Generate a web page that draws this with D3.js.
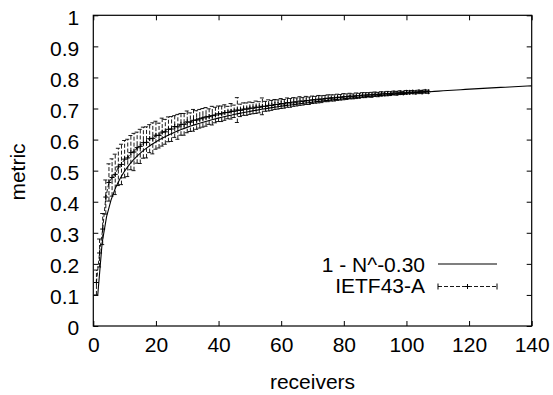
<!DOCTYPE html>
<html>
<head>
<meta charset="utf-8">
<script src="https://cdn.jsdelivr.net/npm/d3@7"></script>
<style>
  body { margin: 0; background: #fff; }
  text { font-family: "Liberation Sans", Arial, Helvetica, sans-serif; }
</style>
</head>
<body>
<svg id="chart" width="553" height="395"></svg>
<script>
// IETF43-A measurements: receivers, metric and error (half width)
var receivers = [1,2,3,4,5,6,7,8,9,10,11,12,13,14,15,16,17,18,19,20,
  21,22,23,24,25,26,27,28,29,30,31,32,33,34,35,36,37,38,39,40,
  41,42,43,44,45,46,47,48,49,50,51,52,53,54,55,56,57,58,59,60,
  61,62,63,64,65,66,67,68,69,70,71,72,73,74,75,76,77,78,79,80,
  81,82,83,84,85,86,87,88,89,90,91,92,93,94,95,96,97,98,99,100,
  101,102,103,104,105,106,107];
var metric = [.140,.235,.312,.415,.462,.478,.488,.512,.520,.537,.541,.558,.560,.574,.578,.590,.591,.603,.604,.614,
  .613,.624,.625,.633,.634,.642,.641,.649,.649,.657,.656,.662,.663,.667,.670,.673,.674,.677,.679,.683,
  .683,.687,.687,.691,.691,.695,.694,.698,.698,.701,.701,.704,.704,.707,.707,.710,.710,.713,.713,.716,
  .715,.719,.718,.721,.721,.724,.723,.726,.725,.728,.728,.730,.730,.732,.733,.734,.734,.736,.736,.738,
  .738,.740,.739,.741,.741,.743,.743,.744,.744,.746,.745,.747,.747,.748,.748,.750,.749,.751,.750,.752,
  .752,.753,.752,.754,.753,.755,.754];
var spread = [.040,.045,.050,.055,.060,.060,.065,.060,.065,.060,.060,.055,.060,.050,.055,.050,.050,.045,.050,.045,
  .040,.045,.040,.040,.040,.035,.040,.035,.035,.035,.030,.035,.030,.030,.030,.030,.025,.030,.025,.025,
  .025,.025,.020,.025,.020,.040,.020,.020,.020,.020,.018,.020,.018,.027,.016,.018,.016,.016,.015,.016,
  .014,.015,.014,.014,.013,.014,.012,.013,.012,.012,.011,.012,.011,.010,.011,.010,.010,.010,.009,.010,
  .009,.009,.008,.009,.008,.008,.008,.007,.008,.007,.007,.007,.006,.007,.006,.006,.006,.006,.005,.006,
  .005,.005,.005,.005,.005,.005,.005];

// fitted curve 1 - N^-0.30, sampled like gnuplot (100 samples over the x range)
var fitExponent = 0.30;
var fitSamples = 100;

var xTicks = [0,20,40,60,80,100,120,140];
var yTicks = [0,0.1,0.2,0.3,0.4,0.5,0.6,0.7,0.8,0.9,1];
var legendLabels = ["1 - N^-0.30", "IETF43-A"];

var svg = d3.select("#chart");
var fontSize = 21;
var dash = "4,2";

var x = d3.scaleLinear().domain([0, 140]).range([93.3, 531.7]);
var y = d3.scaleLinear().domain([0, 1]).range([326, 15.3]);

// ticks, inward on all four sides
svg.append("g")
	.attr("transform", "translate(0," + y(0) + ")")
	.call(d3.axisBottom(x).tickValues(xTicks).tickSize(-5).tickPadding(11).tickFormat(d3.format("d")))
	.call(function(g) { g.select(".domain").remove(); });
svg.append("g")
	.attr("transform", "translate(0," + y(1) + ")")
	.call(d3.axisTop(x).tickValues(xTicks).tickSize(-5).tickFormat(""))
	.call(function(g) { g.select(".domain").remove(); });
svg.append("g")
	.attr("transform", "translate(" + x(0) + ",0)")
	.call(d3.axisLeft(y).tickValues(yTicks).tickSize(-5).tickPadding(14).tickFormat(function(d) { return d3.format("")(+d.toFixed(1)); }))
	.call(function(g) { g.select(".domain").remove(); })
	.selectAll("text").attr("dy", "0.42em");
svg.append("g")
	.attr("transform", "translate(" + x(140) + ",0)")
	.call(d3.axisRight(y).tickValues(yTicks).tickSize(-5).tickFormat(""))
	.call(function(g) { g.select(".domain").remove(); });

svg.selectAll(".tick line").attr("stroke", "#000");
svg.selectAll(".tick text")
	.attr("font-size", fontSize)
	.attr("font-family", '"Liberation Sans", Arial, sans-serif')
	.attr("fill", "#000");

// border
svg.append("rect")
	.attr("x", x(0))
	.attr("y", y(1))
	.attr("width", x(140) - x(0))
	.attr("height", y(0) - y(1))
	.attr("fill", "none")
	.attr("stroke", "#000")
	.attr("stroke-width", 1.2);

// axis labels
svg.append("text")
	.attr("x", (x(0) + x(140)) / 2)
	.attr("y", 389)
	.attr("text-anchor", "middle")
	.attr("font-size", fontSize)
	.text("receivers");
svg.append("text")
	.attr("transform", "translate(25,172) rotate(-90)")
	.attr("text-anchor", "middle")
	.attr("font-size", fontSize)
	.text("metric");

var data = receivers.map(function(n, i) {
	return { n: n, v: metric[i], e: spread[i] };
});

// error bars (dashed like the data line)
var bars = svg.append("g")
	.attr("stroke", "#000")
	.attr("stroke-width", 0.9)
	.attr("stroke-dasharray", dash)
	.attr("fill", "none");
var cap = 2.5;
data.forEach(function(d) {
	if (d.e <= 0) return;
	var cx = x(d.n), lo = y(d.v - d.e), hi = y(d.v + d.e);
	bars.append("path")
		.attr("d", "M" + cx + "," + lo + "V" + hi +
			"M" + (cx - cap) + "," + hi + "H" + (cx + cap) +
			"M" + (cx - cap) + "," + lo + "H" + (cx + cap));
});

// data line
svg.append("path")
	.datum(data)
	.attr("fill", "none")
	.attr("stroke", "#000")
	.attr("stroke-width", 0.9)
	.attr("stroke-dasharray", dash)
	.attr("d", d3.line().x(function(d) { return x(d.n); }).y(function(d) { return y(d.v); }));

// point markers
var pts = svg.append("g").attr("stroke", "#000").attr("stroke-width", 1);
data.forEach(function(d) {
	var px = x(d.n), py = y(d.v);
	pts.append("path").attr("d", "M" + (px - 2.5) + "," + py + "H" + (px + 2.5) + "M" + px + "," + (py - 2.5) + "V" + (py + 2.5));
});

// fitted function
var fit = d3.range(1, fitSamples).map(function(i) {
	var n = 140 * i / (fitSamples - 1);
	return [n, 1 - Math.pow(n, -fitExponent)];
});
svg.append("path")
	.datum(fit)
	.attr("fill", "none")
	.attr("stroke", "#000")
	.attr("stroke-width", 1.1)
	.attr("d", d3.line().x(function(d) { return x(d[0]); }).y(function(d) { return y(d[1]); }));

// legend
var key = svg.append("g");
key.append("text")
	.attr("x", 425).attr("y", 272)
	.attr("text-anchor", "end")
	.attr("font-size", fontSize)
	.text(legendLabels[0]);
key.append("line")
	.attr("x1", 438).attr("x2", 497)
	.attr("y1", 264).attr("y2", 264)
	.attr("stroke", "#000").attr("stroke-width", 1.1);
key.append("text")
	.attr("x", 425).attr("y", 293)
	.attr("text-anchor", "end")
	.attr("font-size", fontSize)
	.text(legendLabels[1]);
key.append("line")
	.attr("x1", 438).attr("x2", 497)
	.attr("y1", 286.5).attr("y2", 286.5)
	.attr("stroke", "#000").attr("stroke-width", 0.9)
	.attr("stroke-dasharray", dash);
key.append("path")
	.attr("d", "M438,283.5V289.5M497,283.5V289.5M465,286.5H470M467.5,284V289")
	.attr("stroke", "#000").attr("stroke-width", 1);
</script>
</body>
</html>
